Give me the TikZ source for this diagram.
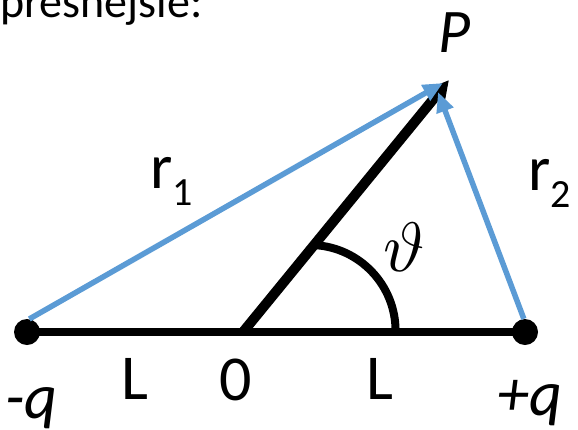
\documentclass[tikz,border=0pt]{standalone}
\usepackage{graphicx}
\usepackage{fontspec}
\setmainfont{Carlito}
\usepackage{xcolor}
\usetikzlibrary{arrows.meta, calc}
\definecolor{rblue}{HTML}{5B9BD5}
\newcommand{\rsub}[1]{\raisebox{-17pt}{\fontsize{40}{40}\selectfont #1}}

\begin{document}
\begin{tikzpicture}[x=1pt, y=-1pt,
    lbl/.style={inner sep=0pt, font=\fontsize{64}{64}\selectfont},
    lbli/.style={inner sep=0pt, font=\fontsize{64}{64}\selectfont\itshape},
    charge/.style={circle, fill=black, minimum size=26pt, inner sep=0pt},
    rvec/.style={rblue, line width=5.5pt, -{Triangle[length=20pt, width=17pt]}}]
  \useasboundingbox (0,0) rectangle (578,429);
  \clip (0,0) rectangle (578,429);
  % heading, cut off at the top
  \node[inner sep=0pt, font=\fontsize{46}{46}\selectfont, anchor=base west] (head) at (0,17) {presnejsie:};
  % axis from -q to +q
  \coordinate (qneg) at (27,332);
  \coordinate (qpos) at (525,332);
  \coordinate (O) at (243,332);
  \draw[line width=8pt] (qneg) -- (qpos);
  \node[charge] (neg) at (qneg) {};
  \node[charge] (pos) at (qpos) {};
  % position vector and r1, r2
  \coordinate (tipP) at (449,80);
  \coordinate (tip1) at (443,83);
  \coordinate (tip2) at (438,92);
  \draw[line width=10pt, -{Triangle[length=22pt, width=22pt]}] (O) -- (tipP);
  \draw[rvec] (neg.80) -- (tip1);
  \draw[rvec] (pos.95) -- (tip2);
  % angle theta
  \draw[line width=8pt] ($(O)!0.345!(tipP)$) arc[start angle=-87, end angle=0, radius=86];
  % labels
  \node[lbli, font=\fontsize{62}{62}\selectfont\itshape, anchor=base] (lP) at (455,52) {P};
  \node[lbl, anchor=base west] (lr1) at (150,188) {r\rsub{1}};
  \node[lbl, anchor=base west] (lr2) at (528,190) {r\rsub{2}};
  \node[lbl, anchor=base] (lth) at (404,271) {\scalebox{7}{\fontsize{10}{12}\selectfont$\vartheta$}};
  \node[lbl, anchor=base] (lL1) at (135,399) {L};
  \node[lbl, anchor=base] (l0) at (236,400) {0};
  \node[lbl, anchor=base] (lL2) at (380,399) {L};
  \node[lbli, anchor=base west] (lneg) at (5,418) {-q};
  \node[lbli, anchor=base west] (lpos) at (497,415) {+q};
\end{tikzpicture}
\end{document}
